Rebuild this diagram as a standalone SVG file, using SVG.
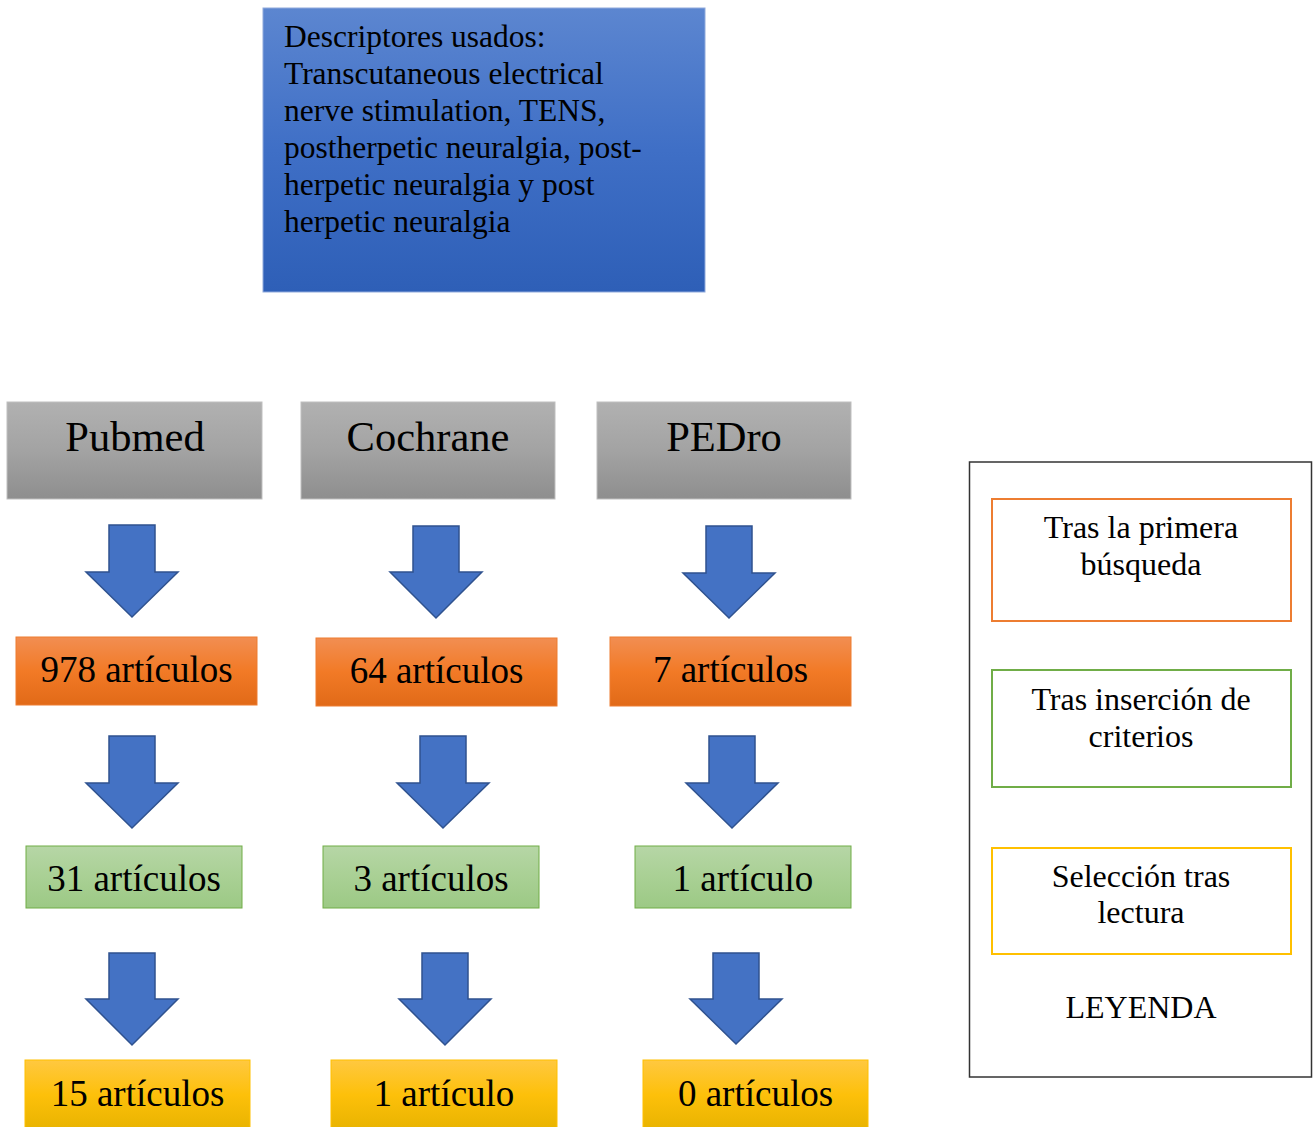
<svg xmlns="http://www.w3.org/2000/svg" width="1316" height="1127" viewBox="0 0 1316 1127">
<defs>
<linearGradient id="gBlue" x1="0" y1="0" x2="0" y2="1"><stop offset="0" stop-color="#5c86d0"/><stop offset="0.5" stop-color="#3f6fc6"/><stop offset="1" stop-color="#2e5fb7"/></linearGradient>
<linearGradient id="gGray" x1="0" y1="0" x2="0" y2="1"><stop offset="0" stop-color="#b1b1b1"/><stop offset="0.5" stop-color="#a3a3a3"/><stop offset="1" stop-color="#8e8e8e"/></linearGradient>
<linearGradient id="gOrange" x1="0" y1="0" x2="0" y2="1"><stop offset="0" stop-color="#f28e52"/><stop offset="0.5" stop-color="#f27a26"/><stop offset="1" stop-color="#e16a18"/></linearGradient>
<linearGradient id="gGreen" x1="0" y1="0" x2="0" y2="1"><stop offset="0" stop-color="#b6d6a6"/><stop offset="0.5" stop-color="#a9d094"/><stop offset="1" stop-color="#9cc985"/></linearGradient>
<linearGradient id="gYellow" x1="0" y1="0" x2="0" y2="1"><stop offset="0" stop-color="#ffc840"/><stop offset="0.5" stop-color="#fdc00a"/><stop offset="1" stop-color="#e8b300"/></linearGradient>
</defs>
<style>
text{font-family:"Liberation Serif","Times New Roman",serif;fill:#000}
.db{font-size:42.5px;text-anchor:middle}
.cnt{font-size:37px;text-anchor:middle}
.lg{font-size:32px;text-anchor:middle}
.top{font-size:31.5px}
.arrow{fill:#4472c4;stroke:#2f528f;stroke-width:1.5;stroke-linejoin:miter}
.gray{fill:url(#gGray);stroke:#bfbfbf;stroke-width:1}
.orange{fill:url(#gOrange);stroke:#ed7d31;stroke-width:1}
.green{fill:url(#gGreen);stroke:#70ad47;stroke-width:1}
.yellow{fill:url(#gYellow);stroke:#ffc000;stroke-width:1}
</style>
<rect width="1316" height="1127" fill="#fff"/>

<g id="descriptores">
<rect x="263" y="8" width="442" height="284" fill="url(#gBlue)" stroke="#8faadc" stroke-width="1"/>
<text class="top" x="284" y="47">Descriptores usados:</text>
<text class="top" x="284" y="84">Transcutaneous electrical</text>
<text class="top" x="284" y="121">nerve stimulation, TENS,</text>
<text class="top" x="284" y="158">postherpetic neuralgia, post-</text>
<text class="top" x="284" y="195">herpetic neuralgia y post</text>
<text class="top" x="284" y="232">herpetic neuralgia</text>
</g>

<g id="pubmed"><rect class="gray" x="7" y="402" width="255" height="97"/><text class="db" x="135" y="451">Pubmed</text></g>
<g id="cochrane"><rect class="gray" x="301" y="402" width="254" height="97"/><text class="db" x="428" y="451">Cochrane</text></g>
<g id="pedro"><rect class="gray" x="597" y="402" width="254" height="97"/><text class="db" x="724" y="451">PEDro</text></g>

<g id="pubmed-978"><rect class="orange" x="16" y="637" width="241" height="68"/><text class="cnt" x="136.5" y="682">978 artículos</text></g>
<g id="cochrane-64"><rect class="orange" x="316" y="638" width="241" height="68"/><text class="cnt" x="436.5" y="683">64 artículos</text></g>
<g id="pedro-7"><rect class="orange" x="610" y="637" width="241" height="69"/><text class="cnt" x="730.5" y="682">7 artículos</text></g>

<g id="pubmed-31"><rect class="green" x="26" y="846" width="216" height="62"/><text class="cnt" x="134" y="891">31 artículos</text></g>
<g id="cochrane-3"><rect class="green" x="323" y="846" width="216" height="62"/><text class="cnt" x="431" y="891">3 artículos</text></g>
<g id="pedro-1"><rect class="green" x="635" y="846" width="216" height="62"/><text class="cnt" x="743" y="891">1 artículo</text></g>

<g id="pubmed-15"><rect class="yellow" x="25" y="1060" width="225" height="70"/><text class="cnt" x="137.5" y="1106">15 artículos</text></g>
<g id="cochrane-1"><rect class="yellow" x="331" y="1060" width="226" height="70"/><text class="cnt" x="444" y="1106">1 artículo</text></g>
<g id="pedro-0"><rect class="yellow" x="643" y="1060" width="225" height="70"/><text class="cnt" x="755.5" y="1106">0 artículos</text></g>

<g id="connectors">
<path class="arrow" d="M109 525H155V572H178L132 617L86 572H109Z"/>
<path class="arrow" d="M109 736H155V783H178L132 828L86 783H109Z"/>
<path class="arrow" d="M109 953H155V999H178L132 1045L86 999H109Z"/>
<path class="arrow" d="M413 526H459V572H482L436 618L390 572H413Z"/>
<path class="arrow" d="M420 736H466V783H489L443 828L397 783H420Z"/>
<path class="arrow" d="M422 953H468V999H491L445 1045L399 999H422Z"/>
<path class="arrow" d="M706 526H752V573H775L729 618L683 573H706Z"/>
<path class="arrow" d="M709 736H755V783H778L732 828L686 783H709Z"/>
<path class="arrow" d="M713 953H759V999H782L736 1044L690 999H713Z"/>
</g>

<g id="leyenda">
<rect x="969.5" y="462" width="342" height="615" fill="#fff" stroke="#333" stroke-width="1.5"/>
<text class="lg" x="1141" y="1018">LEYENDA</text>
</g>
<g id="leg-orange"><rect x="992" y="499" width="299" height="122" fill="#fff" stroke="#ed7d31" stroke-width="2"/><text class="lg" x="1141" y="538">Tras la primera</text><text class="lg" x="1141" y="575">búsqueda</text></g>
<g id="leg-green"><rect x="992" y="670" width="299" height="117" fill="#fff" stroke="#70ad47" stroke-width="2"/><text class="lg" x="1141" y="710">Tras inserción de</text><text class="lg" x="1141" y="747">criterios</text></g>
<g id="leg-yellow"><rect x="992" y="848" width="299" height="106" fill="#fff" stroke="#ffc000" stroke-width="2"/><text class="lg" x="1141" y="887">Selección tras</text><text class="lg" x="1141" y="923">lectura</text></g>
</svg>
